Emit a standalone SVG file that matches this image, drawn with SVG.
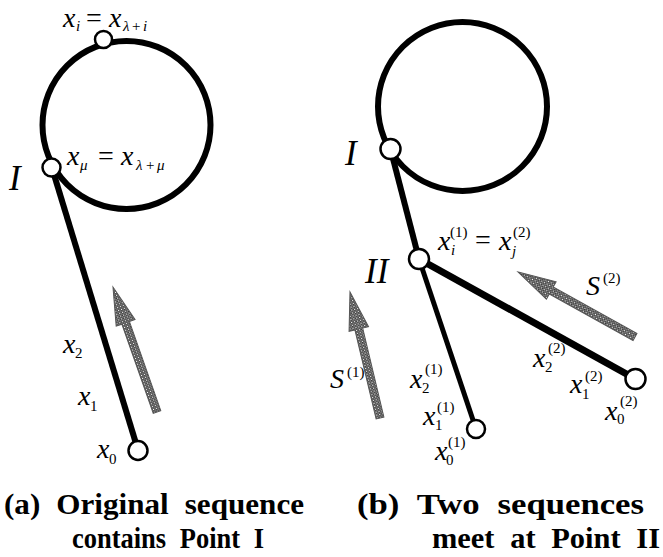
<svg xmlns="http://www.w3.org/2000/svg" width="663" height="557" viewBox="0 0 663 557">
<style>
.ring{fill:none;stroke:#000;stroke-width:6}
.seg{stroke:#000;fill:none;stroke-linecap:butt}
.node{fill:#fff;stroke:#000;stroke-width:2.5}
.m{font-family:"Liberation Serif","Times New Roman",serif;font-style:italic;font-size:28px;fill:#000}
.sm{font-family:"Liberation Serif","Times New Roman",serif;font-size:15px;fill:#000}
.si{font-family:"Liberation Serif","Times New Roman",serif;font-style:italic;font-size:15px;fill:#000}
.eq{font-family:"Liberation Serif","Times New Roman",serif;font-size:28px;fill:#000}
.big{font-family:"Liberation Serif","Times New Roman",serif;font-style:italic;font-size:35px;fill:#000}
.cap{font-family:"Liberation Serif","Times New Roman",serif;font-weight:bold;font-size:30px;fill:#000}
.garrow{fill:url(#dots);stroke:#555;stroke-width:1}
</style>
<defs>
<pattern id="dots" width="3" height="3" patternUnits="userSpaceOnUse">
<rect width="3" height="3" fill="#333"/>
<rect x="0" y="0" width="1.2" height="1.2" fill="#fff"/>
<rect x="1.5" y="1.5" width="1.2" height="1.2" fill="#ddd"/>
</pattern>
</defs>

<g id="connectors">
<circle class="ring" cx="126.5" cy="125" r="84"/>
<line class="seg" x1="52" y1="168" x2="138" y2="450" stroke-width="6"/>
<circle class="ring" cx="462.5" cy="106.5" r="84.5"/>
<line class="seg" x1="390.5" y1="149" x2="419" y2="259" stroke-width="6"/>
<line class="seg" x1="419" y1="259" x2="476" y2="429" stroke-width="5"/>
<line class="seg" x1="419" y1="259" x2="635.5" y2="379" stroke-width="7"/>
</g>

<g id="arrow-left">
<path class="garrow" transform="translate(157,412) rotate(-109.4)" d="M0,-4 L94.5,-4 L94.5,-10 L132.5,0 L94.5,10 L94.5,4 L0,4 Z"/>
</g>
<g id="arrow-s1">
<path class="garrow" transform="translate(380,418) rotate(-103.4)" d="M0,-4 L91.5,-4 L91.5,-10 L129.5,0 L91.5,10 L91.5,4 L0,4 Z"/>
</g>
<g id="arrow-s2">
<path class="garrow" transform="translate(635,337) rotate(-150.95)" d="M0,-4 L95.8,-4 L95.8,-10 L133.8,0 L95.8,10 L95.8,4 L0,4 Z"/>
</g>

<g id="node-top">
<circle class="node" cx="103.5" cy="39.5" r="8.5"/>
<text class="m" x="63" y="27">x</text><text class="si" x="76" y="31">i</text>
<text class="eq" x="86" y="27">=</text>
<text class="m" x="109" y="27">x</text><text class="si" x="123" y="31">λ</text><text class="sm" x="132" y="31">+</text><text class="si" x="143" y="31">i</text>
</g>

<g id="node-I-left">
<circle class="node" cx="51.5" cy="167.5" r="9"/>
<text class="big" x="9" y="190">I</text>
<text class="m" x="67" y="165">x</text><text class="si" x="80" y="170">μ</text>
<text class="eq" x="98" y="165">=</text>
<text class="m" x="121" y="165">x</text><text class="si" x="136" y="170">λ</text><text class="sm" x="146" y="170">+</text><text class="si" x="157" y="170">μ</text>
</g>

<g id="node-x0-left">
<circle class="node" cx="138" cy="450.5" r="9.5"/>
<text class="m" x="97" y="458">x</text><text class="sm" x="109" y="464">0</text>
<text class="m" x="78" y="405">x</text><text class="sm" x="90" y="411">1</text>
<text class="m" x="63" y="353">x</text><text class="sm" x="75" y="358">2</text>
</g>

<g id="node-I-right">
<circle class="node" cx="390.5" cy="149" r="10"/>
<text class="big" x="345" y="165">I</text>
</g>

<g id="node-II">
<circle class="node" cx="419" cy="259" r="10"/>
<text class="big" x="365" y="283">II</text>
<text class="m" x="438" y="250">x</text><text class="sm" x="450" y="237">(1)</text><text class="si" x="451" y="255">i</text>
<text class="eq" x="475" y="249">=</text>
<text class="m" x="499" y="250">x</text><text class="sm" x="513" y="237">(2)</text><text class="si" x="512" y="256">j</text>
</g>

<g id="node-x0-1">
<circle class="node" cx="476" cy="429" r="9"/>
<text class="m" x="435" y="460">x</text><text class="sm" x="448" y="447">(1)</text><text class="sm" x="446" y="465">0</text>
<text class="m" x="423" y="425">x</text><text class="sm" x="437" y="412">(1)</text><text class="sm" x="435" y="430">1</text>
<text class="m" x="410" y="388">x</text><text class="sm" x="425" y="374">(1)</text><text class="sm" x="422" y="393">2</text>
</g>

<g id="node-x0-2">
<circle class="node" cx="635.5" cy="379" r="10"/>
<text class="m" x="605" y="420">x</text><text class="sm" x="620" y="406">(2)</text><text class="sm" x="617" y="424">0</text>
<text class="m" x="570" y="393">x</text><text class="sm" x="585" y="381">(2)</text><text class="sm" x="582" y="399">1</text>
<text class="m" x="533" y="367">x</text><text class="sm" x="548" y="353">(2)</text><text class="sm" x="545" y="372">2</text>
</g>

<g id="labels-S">
<text class="m" x="330" y="388" font-size="29">S</text><text class="sm" x="347" y="377">(1)</text>
<text class="m" x="586" y="295" font-size="29">S</text><text class="sm" x="603" y="283">(2)</text>
</g>

<g id="captions">
<text class="cap" x="4" y="514" textLength="300" lengthAdjust="spacingAndGlyphs" word-spacing="8">(a) Original sequence</text>
<text class="cap" x="72" y="548" textLength="192" lengthAdjust="spacingAndGlyphs" word-spacing="8">contains Point I</text>
<text class="cap" x="357" y="514" textLength="287" lengthAdjust="spacingAndGlyphs" word-spacing="8">(b) Two sequences</text>
<text class="cap" x="432" y="548" textLength="228" lengthAdjust="spacingAndGlyphs" word-spacing="8">meet at Point II</text>
</g>
</svg>
